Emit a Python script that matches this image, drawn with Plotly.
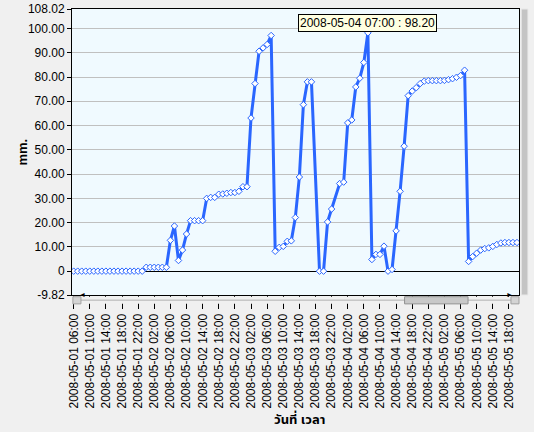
import pandas as pd
import plotly.graph_objects as go

# hourly readings from 2008-05-01 06:00 (None = no reading that hour)
start_time = "2008-05-01 06:00"
levels = [
    0, 0, 0, 0, 0, 0, 0, 0, 0, 0, 0, 0, 0, 0, 0, 0, 0, 0,
    1.6, 1.6, 1.6, 1.6, 1.6, 1.6,
    12.7, 18.6, 4.4, 8.7, 15.3,
    20.8, 20.8, 20.8, 20.8,
    30.0, 30.4, 30.4, 31.7, 31.8, 32.1, 32.4, 32.4, 32.9, 34.8, 34.8,
    63.1, 77.3, 90.6, 92.0, 93.4, 97.1,
    8.2, 9.8, 10.2, 12.3, 12.5,
    22.1, 38.8, 68.6, 78.0, 78.0,
    None,
    0, 0, 20.3, 25.6,
    None,
    36.1, 36.7, 61.1, 62.3, 75.9, 79.5, 86.0, 98.2,
    4.8, 6.9, 6.9, 10.3, 0.0, 0.7, 16.6, 32.9, 51.5, 72.3,
    74.2, 75.6, 77.3, 78.3, 78.5, 78.5, 78.5, 78.5, 78.6, 78.9, 79.3, 79.9, 80.6, 82.8,
    4.0, 6.0, 7.4, 8.7, 9.3, 9.6, 10.2, 11.0, 11.6, 11.8, 11.8, 11.8, 11.8,
]
times = pd.date_range(start_time, periods=len(levels), freq="h")

y_ticks = [-9.82, 0, 10, 20, 30, 40, 50, 60, 70, 80, 90, 100, 108.02]
y_labels = ["-9.82", "0", "10.00", "20.00", "30.00", "40.00", "50.00",
            "60.00", "70.00", "80.00", "90.00", "100.00", "108.02"]
x_ticks = pd.date_range(start_time, "2008-05-05 18:00", freq="4h")
x_labels = [t.strftime("%Y-%m-%d %H:%M") for t in x_ticks]

peak_time = "2008-05-04 07:00"
peak_value = 98.20

FONT = "Liberation Sans, Arial, sans-serif"
THAI_FONT = "Tahoma, Noto Sans Thai, Loma, Garuda, Liberation Sans, sans-serif"
BLUE = "#2A66FF"

fig = go.Figure()

fig.add_trace(go.Scatter(
    x=times,
    y=levels,
    mode="lines+markers",
    connectgaps=True,
    line=dict(color=BLUE, width=3),
    marker=dict(symbol="diamond", size=5, color="white",
                line=dict(color=BLUE, width=1)),
    hovertemplate="%{x|%Y-%m-%d %H:%M} : %{y:.2f}<extra></extra>",
))

# tooltip-like label over the highest reading
fig.add_annotation(
    x=peak_time, y=peak_value,
    text=f"{peak_time} : {peak_value:.2f}",
    showarrow=False, xanchor="center", yanchor="bottom", yshift=1,
    bgcolor="#FFFFE1", bordercolor="black", borderwidth=1, borderpad=1,
    font=dict(family=FONT, size=12, color="black"),
)

# axis titles
fig.add_annotation(xref="paper", yref="paper", x=-0.134, y=0.5, text="<b>mm.</b>",
                   textangle=-90, showarrow=False, font=dict(size=13))
fig.add_annotation(xref="paper", yref="paper", x=0.508, y=-0.438, text="<b>วันที่ เวลา</b>",
                   showarrow=False, yanchor="middle",
                   font=dict(family=THAI_FONT, size=13))

# fake scrollbars like the original chart control
shapes = [
    # horizontal track
    dict(type="rect", xref="paper", yref="paper", x0=0, x1=1, y0=-0.031, y1=-0.006,
         fillcolor="#F0F0F0", line=dict(width=0), layer="above"),
    dict(type="line", xref="paper", yref="paper", x0=0.02, x1=0.985, y0=-0.018, y1=-0.018,
         line=dict(color="#B0B0B0", width=1), layer="above"),
    # thumb
    dict(type="rect", xref="paper", yref="paper", x0=0.744, x1=0.886, y0=-0.031, y1=-0.006,
         fillcolor="#C8C8C8", line=dict(color="#909090", width=1), layer="above"),
    # arrow buttons
    dict(type="rect", xref="paper", yref="paper", x0=0.002, x1=0.02, y0=-0.031, y1=-0.006,
         fillcolor="#D4D4D4", line=dict(color="#A0A0A0", width=1), layer="above"),
    dict(type="rect", xref="paper", yref="paper", x0=0.982, x1=1.0, y0=-0.031, y1=-0.006,
         fillcolor="#D4D4D4", line=dict(color="#A0A0A0", width=1), layer="above"),
    # vertical bar on the right
    dict(type="rect", xref="paper", yref="paper", x0=1.005, x1=1.02, y0=0, y1=1,
         fillcolor="#C4C4C4", line=dict(color="#E8E8E8", width=1), layer="above"),
]
for s in shapes:
    fig.add_shape(**s)

fig.add_annotation(xref="paper", yref="paper", x=0.011, y=-0.0185, text="◄",
                   showarrow=False, font=dict(size=7, color="black"))
fig.add_annotation(xref="paper", yref="paper", x=0.991, y=-0.0185, text="►",
                   showarrow=False, font=dict(size=7, color="black"))

fig.update_layout(
    width=534, height=432,
    margin=dict(l=72, r=15, t=9, b=137),
    paper_bgcolor="#F0F0F0",
    plot_bgcolor="#F0FAFF",
    font=dict(family=FONT, size=12, color="black"),
    showlegend=False,
    xaxis=dict(
        type="date", automargin=False,
        range=["2008-05-01 05:35", "2008-05-05 20:30"],
        tickmode="array", tickvals=x_ticks, ticktext=x_labels,
        tickangle=-90, ticks="outside", ticklen=13, tickcolor="black",
        showgrid=False, zeroline=False,
        showline=True, linecolor="black", linewidth=1, mirror=True,
    ),
    yaxis=dict(
        automargin=False,
        range=[-9.82, 108.02],
        tickmode="array", tickvals=y_ticks, ticktext=y_labels,
        ticks="outside", ticklen=4, tickcolor="black",
        showgrid=True, gridcolor="#C0C0C0", gridwidth=1,
        zeroline=True, zerolinecolor="black", zerolinewidth=1,
        showline=True, linecolor="black", linewidth=1, mirror=True,
    ),
)

# drop the browser's default page margin so the chart sits at the window corner
fig.write_html("out.html", config={"displayModeBar": False},
               post_script="document.body.style.margin='0px';")
